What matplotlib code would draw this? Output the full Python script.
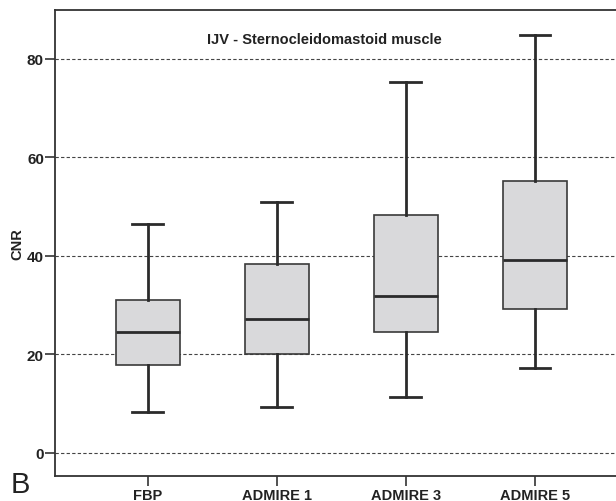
import matplotlib
matplotlib.use("Agg")
import matplotlib.pyplot as plt

plt.rcParams['font.family'] = ['Liberation Sans', 'DejaVu Sans']

# box statistics (CNR)
groups = ['FBP', 'ADMIRE 1', 'ADMIRE 3', 'ADMIRE 5']
whislo = [8.3, 9.2, 11.4, 17.1]
q1 = [17.8, 20.1, 24.6, 29.1]
med = [24.6, 27.1, 31.8, 39.1]
q3 = [31.0, 38.3, 48.3, 55.1]
whishi = [46.5, 50.9, 75.2, 84.8]
yticks = [0, 20, 40, 60, 80]

stats = []
for i in range(len(groups)):
    stats.append(dict(label=groups[i], whislo=whislo[i], q1=q1[i], med=med[i],
                      q3=q3[i], whishi=whishi[i], fliers=[]))

fig = plt.figure(figsize=(6.16, 5.02), dpi=100)
ax = fig.add_axes([0.0893, 0.0504, 0.93, 0.9277])

dark = '#2b2b2b'
ax.bxp(stats, positions=range(1, len(groups) + 1), widths=0.5, patch_artist=True,
       showfliers=False,
       boxprops=dict(facecolor='#d9d9db', edgecolor='#3a3a3a', linewidth=1.2),
       medianprops=dict(color=dark, linewidth=2),
       whiskerprops=dict(color=dark, linewidth=2),
       capprops=dict(color=dark, linewidth=2), capwidths=0.24, zorder=3)

ax.set_xlim(0.28, 4.72)
ax.set_ylim(-4.67, 89.9)
ax.set_yticks(yticks)
ax.set_xticks(range(1, len(groups) + 1))
ax.set_xticklabels(groups)
for y in yticks:
    ax.axhline(y, color='#444444', linestyle=(0, (3, 2)), linewidth=0.8, zorder=1)

for s in ['left', 'bottom', 'top']:
    ax.spines[s].set_color('#333333')
    ax.spines[s].set_linewidth(1.3)
ax.spines['right'].set_visible(False)
ax.tick_params(axis='both', direction='out', length=7, width=1.2, color='#333333',
               labelsize=11, labelcolor='#222222')
for lab in ax.get_xticklabels() + ax.get_yticklabels():
    lab.set_fontweight('bold')
ax.tick_params(axis='x', pad=1.5, length=7, labelsize=10.5)
ax.tick_params(axis='y', pad=1)

ax.set_ylabel('CNR', fontsize=10.5, fontweight='bold', color='#222222', labelpad=2)
ax.text(2.37, 84.0, 'IJV - Sternocleidomastoid muscle', fontsize=10.5, fontweight='bold',
        color='#222222', ha='center', va='center')
fig.text(0.018, 0.005, 'B', fontsize=21, color='#222222', ha='left', va='bottom')

fig.savefig('out.png', dpi=100)
